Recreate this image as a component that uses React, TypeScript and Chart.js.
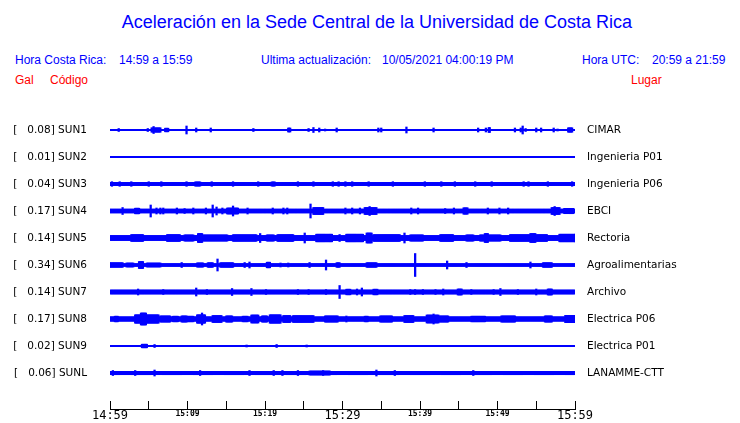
import React, { useEffect, useRef } from "react";
import { Chart, registerables } from "chart.js";
Chart.register(...registerables);

// ---------- text ----------
const TITLE = "Aceleración en la Sede Central de la Universidad de Costa Rica";
const HORA_CR_LABEL = "Hora Costa Rica:";
const HORA_CR_VALUE = "14:59 a 15:59";
const UPDATE_LABEL = "Ultima actualización:";
const UPDATE_VALUE = "10/05/2021 04:00:19 PM";
const HORA_UTC_LABEL = "Hora UTC:";
const HORA_UTC_VALUE = "20:59 a 21:59";

// ---------- stations ----------
const stationCodes = ["SUN1", "SUN2", "SUN3", "SUN4", "SUN5", "SUN6", "SUN7", "SUN8", "SUN9", "SUNL"];
const peakGal = ["0.08", "0.01", "0.04", "0.17", "0.14", "0.34", "0.14", "0.17", "0.02", "0.06"];
const places = [
  "CIMAR", "Ingenieria P01", "Ingenieria P06", "EBCI", "Rectoria",
  "Agroalimentarias", "Archivo", "Electrica P06", "Electrica P01", "LANAMME-CTT",
];

// ---------- time axis (minutes after 14:59) ----------
const xTickValues = [0, 5, 10, 15, 20, 25, 30, 35, 40, 45, 50, 55, 60];
const xTickLabels = ["14:59", "", "15:09", "", "15:19", "", "15:29", "", "15:39", "", "15:49", "", "15:59"];
const majorTickValues = [0, 30, 60];

// ---------- trace amplitudes (1 unit = 1/27 of trace spacing) ----------
const baseAmp = [0.65, 0.65, 1.6, 1.9, 2.5, 1.4, 2.0, 2.2, 0.65, 1.7];

// events: [start minute, end minute, amplitude]
const sun1Events = [
  [1.07, 1.07, 1.5], [4.86, 4.86, 1.5], [5.38, 6.45, 2.2], [5.68, 5.68, 3.5], [7.1, 7.48, 1.8],
  [9.85, 9.85, 4], [11.14, 11.14, 2], [13.03, 13.03, 2], [18.45, 18.45, 1.5], [22.97, 23.23, 2],
  [25.68, 25.68, 1.5], [26.28, 26.28, 2.5], [26.97, 26.97, 2], [27.74, 27.74, 1], [29.25, 29.25, 2],
  [34.62, 34.62, 2], [34.97, 34.97, 2], [38.23, 38.23, 3], [41.72, 41.72, 2], [47.45, 47.45, 2],
  [48.48, 48.48, 2], [48.9, 49.0, 2.5], [52.22, 52.22, 2], [52.94, 52.94, 2], [53.2, 53.2, 4],
  [53.68, 53.68, 1.5], [55.01, 55.01, 2], [55.61, 55.61, 2], [57.2, 57.2, 2], [57.77, 57.77, 1],
  [59.1, 59.6, 2.2],
];
const sun2Events: number[][] = [];
const sun3Events = [
  [0.22, 0.22, 2.3], [1.29, 1.29, 2.3], [2.8, 2.8, 2.3], [4.94, 4.94, 2.3], [6.67, 6.67, 2.3],
  [9.9, 9.9, 2.3], [10.97, 11.61, 2.1], [13.12, 13.12, 2.3], [15.91, 15.91, 2.3], [19.14, 19.14, 2.3],
  [20.86, 21.29, 2.1], [24.3, 24.3, 2.3], [26.23, 26.23, 2.3], [28.81, 28.81, 2.3], [29.46, 29.46, 2.3],
  [30.32, 30.32, 2.3], [31.19, 31.19, 2.3], [33.33, 33.33, 2.3], [36.55, 36.55, 2.3], [40.65, 40.65, 2.3],
  [42.8, 42.8, 2.3], [44.52, 44.52, 2.3], [47.1, 47.1, 2.3], [49.25, 49.25, 2.3], [53.33, 53.33, 2.3],
  [53.97, 53.97, 2.3], [56.55, 56.55, 2.3], [59.57, 59.57, 2.3],
];
const sun4Events = [
  [1.59, 1.59, 3.5], [3.23, 3.78, 2.8], [5.2, 5.2, 6], [6.03, 6.03, 3], [6.45, 6.45, 3], [6.88, 6.88, 3],
  [8.68, 8.68, 3], [9.59, 9.59, 2.5], [10.71, 10.71, 3], [12.35, 12.35, 3], [13.2, 13.2, 6],
  [13.72, 13.72, 4], [14.45, 14.45, 3], [15.1, 16.52, 3], [15.91, 15.91, 5], [17.77, 17.77, 3],
  [21.03, 21.03, 3], [22.41, 22.41, 3], [22.88, 22.88, 3], [25.85, 25.85, 7], [26.23, 27.52, 3.5],
  [30.32, 30.32, 3], [31.26, 31.26, 3], [32.26, 32.26, 3], [32.9, 34.41, 3.5], [33.5, 33.5, 4.5],
  [38.93, 38.93, 3], [39.7, 39.7, 3], [43.23, 43.23, 2.5], [44.39, 44.39, 3], [45.68, 46.15, 3.2],
  [48.81, 48.81, 3], [50.19, 50.19, 3], [51.39, 51.39, 3], [56.99, 58.06, 3.5], [57.4, 57.4, 4.5],
  [58.58, 59.74, 2.7],
];
const sun5Events = [
  [2.8, 4.3, 3.4], [7.32, 9.03, 3.4], [9.68, 10.71, 3.1], [11.39, 11.83, 4.5], [12.0, 15.1, 3.1],
  [15.87, 18.93, 3.3], [19.35, 19.35, 4.5], [20.22, 21.07, 3.1], [21.68, 23.61, 3.4], [25.16, 25.16, 5],
  [26.67, 28.61, 3.8], [29.68, 29.68, 3.5], [30.54, 32.68, 3.8], [33.12, 33.77, 5], [33.97, 37.42, 3.4],
  [38.06, 38.06, 5], [38.71, 40.39, 3.1], [42.58, 44.26, 3.4], [46.03, 46.88, 3.1], [47.74, 50.32, 3.1],
  [48.39, 48.77, 4.5], [51.61, 56.35, 3.4], [54.19, 54.84, 4.5], [58.06, 60, 3.8],
];
const sun6Events = [
  [0, 1.68, 2.3], [2.15, 2.97, 2], [3.78, 4.22, 3.5], [4.74, 6.45, 2], [9.25, 9.25, 2.5],
  [11.19, 12.04, 2.1], [12.65, 13.29, 2.3], [13.85, 13.85, 6], [14.19, 15.87, 2.3], [17.42, 17.42, 2.5],
  [18.06, 18.06, 3], [20.22, 20.65, 2.8], [21.94, 21.94, 2], [23.0, 23.0, 2], [25.81, 25.81, 2.5],
  [27.83, 27.83, 5], [29.25, 29.68, 2.3], [33.12, 34.41, 2.3], [39.39, 39.39, 11.5], [43.45, 43.45, 4],
  [46.03, 46.03, 2.5], [54.19, 54.19, 3], [55.87, 57.03, 2.3],
];
const sun7Events = [
  [3.65, 3.65, 3], [6.88, 6.88, 2.5], [11.1, 11.1, 4], [12.55, 12.55, 2.5], [15.78, 15.78, 3.5],
  [18.28, 18.28, 3.5], [20.13, 20.13, 2.5], [24.3, 24.3, 2.5], [25.68, 25.68, 2.5], [27.87, 27.87, 2.5],
  [29.59, 29.59, 6.5], [30.54, 30.97, 2.8], [31.83, 31.83, 3], [32.55, 32.55, 4], [33.94, 34.45, 2.8],
  [38.71, 38.71, 2.5], [39.35, 39.35, 2.5], [40.35, 40.35, 2.5], [41.94, 41.94, 2.5], [43.01, 43.01, 3],
  [44.9, 45.38, 3], [46.67, 46.67, 2.5], [49.46, 49.46, 2.5], [50.41, 50.41, 3.5], [52.68, 52.68, 2.5],
  [55.06, 55.06, 3], [56.52, 56.99, 3],
];
const sun8Events = [
  [0.65, 1.03, 2.8], [3.23, 6.19, 4.2], [4.0, 4.65, 6], [6.45, 7.74, 3.1], [8.13, 8.77, 2.8],
  [9.25, 9.9, 3.1], [10.06, 10.71, 2.8], [11.19, 12.26, 4.2], [11.83, 11.83, 6], [13.29, 14.41, 3.5],
  [15.06, 15.7, 3.1], [17.16, 17.81, 2.8], [18.28, 19.14, 4], [19.57, 20.22, 3.1], [20.65, 21.94, 4.2],
  [22.32, 23.23, 3.5], [23.61, 26.19, 3.4], [27.74, 29.42, 3.1], [30.54, 30.54, 3], [32.9, 33.29, 2.8],
  [34.84, 36.35, 3.1], [38.06, 39.1, 3.5], [40.86, 42.36, 4], [41.72, 41.72, 5], [42.32, 43.61, 3.1],
  [46.67, 48.39, 2.8], [50.54, 52.26, 3.1], [56.13, 56.99, 3.1], [58.71, 60, 3.6],
];
const sun9Events = [
  [4.09, 4.74, 1.8], [5.81, 5.81, 1.5], [17.64, 17.64, 1], [21.51, 21.51, 1.5], [25.38, 25.38, 1],
];
const sunlEvents = [
  [0.43, 0.43, 2.5], [3.23, 3.23, 2.5], [5.72, 5.72, 3], [11.61, 11.61, 2.5], [18.06, 18.06, 2.5],
  [21.07, 21.07, 2.5], [22.28, 22.28, 2.5], [24.3, 24.3, 2.5], [25.81, 28.39, 2.0], [27.52, 27.52, 2.5],
  [34.41, 34.41, 3], [36.77, 36.77, 2.5], [46.84, 46.84, 2.5],
];
const traceEvents = [
  sun1Events, sun2Events, sun3Events, sun4Events, sun5Events,
  sun6Events, sun7Events, sun8Events, sun9Events, sunlEvents,
];

const AMP_UNITS_PER_TRACE = 27;
const STEP = 0.125;
const TRACE_COLOR = "#0000ff";

function buildTrace(index: number) {
  const center = index + 1;
  const events = traceEvents[index];
  const pts: { x: number; y: [number, number] }[] = [];
  const n = Math.round(60 / STEP);
  for (let k = 0; k <= n; k++) {
    const t = k * STEP;
    let a = baseAmp[index];
    for (const [t0, t1, amp] of events) {
      if (t >= t0 - STEP / 2 && t < t1 + STEP / 2 && amp > a) a = amp;
    }
    const d = a / AMP_UNITS_PER_TRACE;
    pts.push({ x: t, y: [center - d, center + d] });
  }
  return pts;
}

const noPad = (s: any) => {
  s.paddingTop = 0;
  s.paddingBottom = 0;
  s.paddingLeft = 0;
  s.paddingRight = 0;
};

export default function App() {
  const ref = useRef<HTMLCanvasElement | null>(null);
  useEffect(() => {
    if (!ref.current) return;
    const datasets = stationCodes.map((code, i) => ({
      label: code,
      data: buildTrace(i),
      backgroundColor: TRACE_COLOR,
      borderWidth: 0,
      barThickness: 1.6,
      grouped: false,
    }));
    const chart = new Chart(ref.current, {
      type: "bar",
      data: { datasets: datasets as any },
      options: {
        animation: false,
        responsive: true,
        maintainAspectRatio: false,
        events: [],
        layout: { padding: { left: 0, right: 0, top: 103, bottom: 0 } },
        plugins: { legend: { display: false }, tooltip: { enabled: false }, title: { display: false } },
        scales: {
          x: {
            type: "linear",
            min: 0,
            max: 60,
            offset: false,
            position: "bottom",
            afterBuildTicks: (s: any) => {
              s.ticks = xTickValues.map((v) => ({ value: v }));
            },
            afterFit: (s: any) => {
              s.height = 14;
              noPad(s);
            },
            grid: {
              display: true,
              drawOnChartArea: false,
              drawTicks: true,
              tickLength: -8,
              color: "#000",
              lineWidth: 1,
              offset: false,
            },
            border: { display: true, color: "#000", width: 1 },
            ticks: {
              autoSkip: false,
              maxRotation: 0,
              padding: 8,
              color: "#000",
              callback: (_v: any, idx: number) => xTickLabels[idx],
              font: (ctx: any) =>
                majorTickValues.includes(ctx.tick?.value)
                  ? { family: "DejaVu Sans Mono", size: 12 }
                  : { family: "DejaVu Sans Mono", size: 8, weight: "bold" },
            },
          },
          y: {
            type: "linear",
            position: "left",
            reverse: true,
            min: 0,
            max: 11.333,
            afterBuildTicks: (s: any) => {
              s.ticks = stationCodes.map((_c, i) => ({ value: i + 1 }));
            },
            afterFit: (s: any) => {
              s.width = 110;
              noPad(s);
            },
            grid: { display: false, drawTicks: false },
            border: { display: false },
            ticks: {
              padding: 23,
              color: "#000",
              font: { family: "DejaVu Sans", size: 10.5 },
              callback: (_v: any, idx: number) => `[   ${peakGal[idx]}] ${stationCodes[idx]}`,
            },
          },
          y2: {
            type: "linear",
            position: "right",
            reverse: true,
            min: 0,
            max: 11.333,
            afterBuildTicks: (s: any) => {
              s.ticks = places.map((_p, i) => ({ value: i + 1 }));
            },
            afterFit: (s: any) => {
              s.width = 165;
              noPad(s);
            },
            grid: { display: false, drawTicks: false },
            border: { display: false },
            ticks: {
              padding: 12,
              color: "#000",
              font: { family: "DejaVu Sans", size: 10.5 },
              callback: (_v: any, idx: number) => places[idx],
            },
          },
        },
      } as any,
    });
    return () => chart.destroy();
  }, []);

  const sans = "'Liberation Sans', Arial, sans-serif";
  const abs = (left: number, top: number, color: string, size = 12): React.CSSProperties => ({
    position: "absolute",
    left,
    top,
    color,
    fontFamily: sans,
    fontSize: size,
    lineHeight: `${size + 2}px`,
    whiteSpace: "nowrap",
  });

  return (
    <div style={{ position: "absolute", left: 0, top: 0, width: 740, height: 423, background: "#fff" }}>
      <div style={{ ...abs(0, 12, "#0000ff", 18), width: 754, textAlign: "center" }}>{TITLE}</div>
      <div style={abs(15, 53, "#0000ff")}>{HORA_CR_LABEL}</div>
      <div style={abs(119, 53, "#0000ff")}>{HORA_CR_VALUE}</div>
      <div style={abs(261, 53, "#0000ff")}>{UPDATE_LABEL}</div>
      <div style={abs(382, 53, "#0000ff")}>{UPDATE_VALUE}</div>
      <div style={abs(582, 53, "#0000ff")}>{HORA_UTC_LABEL}</div>
      <div style={abs(652, 53, "#0000ff")}>{HORA_UTC_VALUE}</div>
      <div style={abs(15, 73, "#ff0000")}>Gal</div>
      <div style={abs(50, 73, "#ff0000")}>Código</div>
      <div style={abs(631, 73, "#ff0000")}>Lugar</div>
      <div style={{ position: "absolute", left: 0, top: 0, width: 740, height: 423 }}>
        <canvas ref={ref} />
      </div>
    </div>
  );
}
